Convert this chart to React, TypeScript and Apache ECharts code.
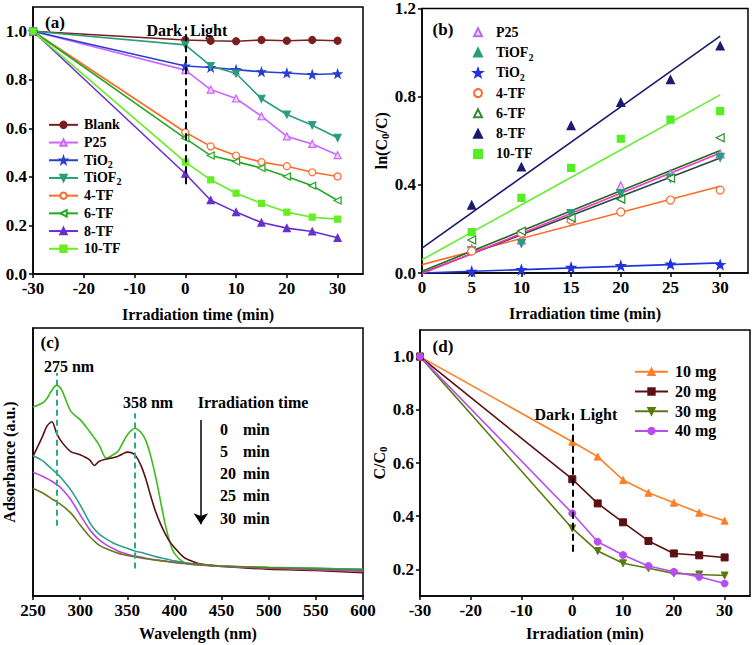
import React, { useEffect, useRef } from "react";
import * as echarts from "echarts";

const FONT = "Liberation Serif, Times New Roman, serif";

// ---------- Panel (a) ----------
const timesA = [-30, 0, 5, 10, 15, 20, 25, 30];
const blankA = [1.0, 0.964, 0.961, 0.959, 0.964, 0.961, 0.964, 0.961];
const p25A = [1.0, 0.84, 0.76, 0.723, 0.65, 0.567, 0.536, 0.49];
const tio2A = [1.0, 0.857, 0.851, 0.842, 0.833, 0.828, 0.822, 0.825];
const tiof2A = [1.0, 0.944, 0.857, 0.826, 0.722, 0.657, 0.613, 0.561];
const tf4A = [1.0, 0.584, 0.526, 0.488, 0.461, 0.444, 0.419, 0.402];
const tf6A = [1.0, 0.559, 0.488, 0.463, 0.437, 0.402, 0.364, 0.303];
const tf8A = [1.0, 0.413, 0.304, 0.255, 0.212, 0.189, 0.175, 0.149];
const tf10A = [1.0, 0.461, 0.388, 0.333, 0.291, 0.255, 0.234, 0.226];
const ticksAx = [-30, -20, -10, 0, 10, 20, 30];
const ticksAy = [0, 0.2, 0.4, 0.6, 0.8, 1.0];

// ---------- Panel (b) ----------
const timesB = [5, 10, 15, 20, 25, 30];
const lnP25 = [0.11, 0.15, 0.25, 0.395, 0.45, 0.54];
const lnTiOF2 = [0.1, 0.135, 0.27, 0.36, 0.43, 0.525];
const lnTiO2 = [0.007, 0.015, 0.025, 0.033, 0.04, 0.038];
const ln4TF = [0.1, 0.18, 0.24, 0.277, 0.331, 0.376];
const ln6TF = [0.15, 0.19, 0.25, 0.335, 0.43, 0.614];
const ln8TF = [0.308, 0.481, 0.669, 0.774, 0.877, 1.03];
const ln10TF = [0.185, 0.341, 0.477, 0.609, 0.696, 0.734];
// fitted lines: [P25, TiOF2, TiO2, 4-TF, 6-TF, 8-TF, 10-TF]
const fitX = [0, 30];
const fitAt0 = [-0.003, 0.0, 0.0, 0.038, 0.008, 0.113, 0.06];
const fitAt30 = [0.544, 0.522, 0.046, 0.394, 0.556, 1.075, 0.808];
const ticksBx = [0, 5, 10, 15, 20, 25, 30];
const ticksBy = [0, 0.4, 0.8, 1.2];

// ---------- Panel (c) ----------
const wl = [250, 260, 265, 270, 275, 280, 290, 300, 310, 315, 320, 328, 335, 340, 345, 350, 358, 365, 370, 375, 380, 385, 390, 395, 400, 410, 420, 430, 450, 500, 550, 600];
const abs0 = [0.705, 0.72, 0.738, 0.768, 0.786, 0.772, 0.69, 0.658, 0.614, 0.59, 0.564, 0.514, 0.527, 0.539, 0.57, 0.601, 0.626, 0.608, 0.577, 0.52, 0.446, 0.359, 0.271, 0.203, 0.159, 0.125, 0.118, 0.115, 0.112, 0.107, 0.103, 0.1];
const abs5 = [0.521, 0.595, 0.635, 0.65, 0.608, 0.577, 0.539, 0.527, 0.508, 0.487, 0.502, 0.511, 0.516, 0.521, 0.53, 0.537, 0.527, 0.483, 0.433, 0.371, 0.315, 0.271, 0.234, 0.203, 0.181, 0.144, 0.128, 0.118, 0.11, 0.1, 0.095, 0.087];
const abs20 = [0.523, 0.505, 0.49, 0.474, 0.458, 0.44, 0.396, 0.34, 0.275, 0.25, 0.232, 0.212, 0.198, 0.19, 0.184, 0.178, 0.168, 0.162, 0.157, 0.152, 0.147, 0.143, 0.139, 0.135, 0.131, 0.125, 0.12, 0.117, 0.112, 0.106, 0.103, 0.1];
const abs25 = [0.462, 0.447, 0.438, 0.428, 0.416, 0.402, 0.36, 0.303, 0.248, 0.227, 0.21, 0.19, 0.177, 0.168, 0.161, 0.156, 0.149, 0.145, 0.141, 0.138, 0.135, 0.132, 0.13, 0.127, 0.125, 0.121, 0.118, 0.115, 0.111, 0.104, 0.098, 0.092];
const abs30 = [0.402, 0.385, 0.374, 0.362, 0.352, 0.34, 0.31, 0.265, 0.222, 0.205, 0.19, 0.176, 0.166, 0.16, 0.155, 0.151, 0.146, 0.142, 0.139, 0.136, 0.134, 0.132, 0.13, 0.128, 0.126, 0.122, 0.119, 0.116, 0.112, 0.105, 0.1, 0.096];
const ticksCx = [250, 300, 350, 400, 450, 500, 550, 600];
const irrTimes = ["0", "5", "20", "25", "30"];

// ---------- Panel (d) ----------
const timesD = [-30, 0, 5, 10, 15, 20, 25, 30];
const mg10 = [1.0, 0.68, 0.624, 0.536, 0.488, 0.451, 0.413, 0.383];
const mg20 = [1.0, 0.539, 0.448, 0.377, 0.307, 0.26, 0.253, 0.245];
const mg30 = [1.0, 0.354, 0.269, 0.223, 0.204, 0.185, 0.181, 0.177];
const mg40 = [1.0, 0.411, 0.304, 0.254, 0.213, 0.191, 0.172, 0.147];
const ticksDx = [-30, -20, -10, 0, 10, 20, 30];
const ticksDy = [0.2, 0.4, 0.6, 0.8, 1.0];

const STAR = "path://M0,-10 L2.35,-3.24 L9.51,-3.09 L3.8,1.24 L5.88,8.09 L0,4 L-5.88,8.09 L-3.8,1.24 L-9.51,-3.09 L-2.35,-3.24 Z";

const zip = (xs: number[], ys: number[]) => xs.map((x, i) => [x, ys[i]]);
const subName = (n: string) => n.replace(/^b:/, "").replace("TiOF2", "TiOF{s|2}").replace("TiO2", "TiO{s|2}");

export default function App() {
  const ref = useRef<HTMLDivElement>(null);
  useEffect(() => {
    if (!ref.current) return;
    const chart = echarts.init(ref.current, null, { renderer: "svg" });
    const tickLabel = { color: "#000", fontFamily: FONT, fontWeight: "bold", fontSize: 17, margin: 6 };
    const nameStyle = {
      color: "#000", fontFamily: FONT, fontWeight: "bold", fontSize: 16,
      rich: { s: { fontFamily: FONT, fontWeight: "bold", fontSize: 11, verticalAlign: "bottom", padding: [8, 0, 0, 0] } },
    };
    const axisLine = { show: true, onZero: false, lineStyle: { color: "#000", width: 1.5 } };
    const tick = (vals: number[] | null) =>
      vals ? { show: true, inside: false, length: 4, lineStyle: { color: "#000", width: 1.5 }, customValues: vals } : { show: false };
    const lbl = (vals: number[] | null, dec: number) =>
      vals ? { ...tickLabel, customValues: vals, formatter: (v: number) => v.toFixed(dec) } : { show: false };
    const gridBase = { show: true, borderColor: "#000", borderWidth: 1.5, backgroundColor: "transparent" };
    const richSub = { s: { fontFamily: FONT, fontWeight: "bold", fontSize: 10, verticalAlign: "bottom", lineHeight: 12 } };

    const lineA = (name: string, data: number[], color: string, symbol: string, fill: string, rotate = 0, size = 7) => ({
      type: "line", name, xAxisIndex: 0, yAxisIndex: 0, data: zip(timesA, data),
      symbol, symbolSize: size, symbolRotate: rotate, showSymbol: true,
      lineStyle: { color, width: 1.6 }, itemStyle: { color: fill, borderColor: color, borderWidth: 1.2 },
    });
    const scatB = (name: string, data: number[], color: string, symbol: string, fill: string, rotate = 0, size = 8) => ({
      type: "scatter", name, xAxisIndex: 1, yAxisIndex: 1, data: zip(timesB, data),
      symbol, symbolSize: size, symbolRotate: rotate,
      itemStyle: { color: fill, borderColor: color, borderWidth: 1.2, opacity: 1 }, z: 5,
    });
    const fitColors = ["#FF33CC", "#1F4F3F", "#2233DD", "#FF6A2A", "#1E6B1E", "#1A1A70", "#66EE33"];
    const fitOrder = [5, 6, 3, 2, 4, 1, 0];
    const fits = fitOrder.map((i) => ({
      type: "line", name: "fit" + i, xAxisIndex: 1, yAxisIndex: 1,
      data: zip(fitX, [fitAt0[i], fitAt30[i]]), symbol: "none",
      lineStyle: { color: fitColors[i], width: 1.6 }, z: 3, silent: true,
    }));
    const specC = (name: string, data: number[], color: string, extra: any = {}) => ({
      type: "line", name, xAxisIndex: 2, yAxisIndex: 2, data: zip(wl, data), symbol: "none",
      smooth: 0.3, lineStyle: { color, width: 1.6 }, silent: true, ...extra,
    });
    const lineD = (name: string, data: number[], color: string, symbol: string, rotate = 0) => ({
      type: "line", name, xAxisIndex: 3, yAxisIndex: 3, data: zip(timesD, data),
      symbol, symbolSize: 7, symbolRotate: rotate, showSymbol: true,
      lineStyle: { color, width: 1.6 }, itemStyle: { color, borderColor: color, borderWidth: 1 },
    });
    const dash = (pairs: number[][][], color: string, type: any, width = 2) => ({
      silent: true, symbol: "none", label: { show: false },
      lineStyle: { color, type, width }, emphasis: { disabled: true },
      data: pairs.map((p) => [{ coord: p[0] }, { coord: p[1] }]),
    });

    const txt = (text: string, x: number, y: number, size = 16, align = "center") => ({
      type: "text", x, y, silent: true,
      style: { text, fill: "#000", fontFamily: FONT, fontWeight: "bold", fontSize: size, align, verticalAlign: "middle", textAlign: align, textVerticalAlign: "middle" },
    });

    const legendText = (size: number, lh: number, padLeft: number) => ({
      color: "#000", fontFamily: FONT, fontWeight: "bold", fontSize: size, lineHeight: lh, padding: [0, 0, 0, padLeft], rich: richSub,
    });

    const option: any = {
      animation: false,
      backgroundColor: "#fff",
      grid: [
        { ...gridBase, left: 33, top: 7, width: 330, height: 267 },
        { ...gridBase, left: 422, top: 7, width: 326, height: 266 },
        { ...gridBase, left: 33, top: 328, width: 330, height: 268 },
        { ...gridBase, left: 420, top: 330, width: 330, height: 266 },
      ],
      xAxis: [
        { type: "value", gridIndex: 0, min: -30, max: 35, axisLine, axisTick: tick(ticksAx), axisLabel: lbl(ticksAx, 0), splitLine: { show: false },
          name: "Irradiation time (min)", nameLocation: "middle", nameGap: 32, nameTextStyle: nameStyle },
        { type: "value", gridIndex: 1, min: 0, max: 32.8, axisLine, axisTick: tick(ticksBx), axisLabel: lbl(ticksBx, 0), splitLine: { show: false },
          name: "Irradiation time (min)", nameLocation: "middle", nameGap: 32, nameTextStyle: nameStyle },
        { type: "value", gridIndex: 2, min: 250, max: 600, axisLine, axisTick: tick(ticksCx), axisLabel: lbl(ticksCx, 0), splitLine: { show: false },
          name: "Wavelength (nm)", nameLocation: "middle", nameGap: 29, nameTextStyle: nameStyle },
        { type: "value", gridIndex: 3, min: -30, max: 35, axisLine, axisTick: tick(ticksDx), axisLabel: lbl(ticksDx, 0), splitLine: { show: false },
          name: "Irradiation (min)", nameLocation: "middle", nameGap: 29, nameTextStyle: nameStyle },
      ],
      yAxis: [
        { type: "value", gridIndex: 0, min: 0, max: 1.1, axisLine, axisTick: tick(ticksAy), axisLabel: lbl(ticksAy, 1), splitLine: { show: false } },
        { type: "value", gridIndex: 1, min: 0, max: 1.2, axisLine, axisTick: tick(ticksBy), axisLabel: lbl(ticksBy, 1), splitLine: { show: false },
          name: "ln(C{s|0}/C)", nameLocation: "middle", nameGap: 28, nameTextStyle: nameStyle },
        { type: "value", gridIndex: 2, min: 0, max: 1, axisLine, axisTick: tick(null), axisLabel: lbl(null, 0), splitLine: { show: false },
          name: "Adsorbance (a.u.)", nameLocation: "middle", nameGap: 16, nameTextStyle: nameStyle },
        { type: "value", gridIndex: 3, min: 0.1, max: 1.1, axisLine, axisTick: tick(ticksDy), axisLabel: lbl(ticksDy, 1), splitLine: { show: false },
          name: "C/C{s|0}", nameLocation: "middle", nameGap: 28, nameTextStyle: nameStyle },
      ],
      legend: [
        { orient: "vertical", left: 48, top: 116, padding: 0, itemWidth: 29, itemHeight: 8, itemGap: 0, selectedMode: false,
          data: ["Blank", "P25", "TiO2", "TiOF2", "4-TF", "6-TF", "8-TF", "10-TF"],
          formatter: subName, textStyle: legendText(14, 17.7, 1) },
        { orient: "vertical", left: 473, top: 22, padding: 0, itemWidth: 8, itemHeight: 8, itemGap: 0, selectedMode: false,
          data: ["b:P25", "b:TiOF2", "b:TiO2", "b:4-TF", "b:6-TF", "b:8-TF", "b:10-TF"],
          formatter: subName, textStyle: legendText(14, 20.3, 9) },
        { orient: "vertical", left: 634, top: 362, padding: 0, itemWidth: 33, itemHeight: 8, itemGap: 0, selectedMode: false,
          data: ["10 mg", "20 mg", "30 mg", "40 mg"],
          textStyle: legendText(16, 19.7, 2) },
      ],
      series: [
        { ...lineA("Blank", blankA, "#7A1F1F", "circle", "#7A1F1F"),
          markLine: dash([[[0, 0.37], [0, 1.02]]], "#000", [7, 4]) },
        lineA("P25", p25A, "#CC66FF", "triangle", "#EBD0FF"),
        lineA("TiO2", tio2A, "#2A3FD0", STAR, "#2A3FD0", 0, 8),
        lineA("TiOF2", tiof2A, "#2A9D7C", "triangle", "#2A9D7C", 180),
        lineA("4-TF", tf4A, "#FF6A2A", "circle", "#FFFFFF"),
        lineA("6-TF", tf6A, "#22A822", "triangle", "#FFFFFF", 90),
        lineA("8-TF", tf8A, "#6A2FD0", "triangle", "#6A2FD0"),
        lineA("10-TF", tf10A, "#66EE22", "rect", "#66EE22", 0, 6),
        ...fits,
        scatB("b:P25", lnP25, "#BB66EE", "triangle", "#EBD0FF"),
        scatB("b:TiOF2", lnTiOF2, "#2A9D7C", "triangle", "#2A9D7C", 180),
        scatB("b:TiO2", lnTiO2, "#2233DD", STAR, "#2233DD", 0, 9),
        scatB("b:4-TF", ln4TF, "#FF6A2A", "circle", "#FFFFFF"),
        scatB("b:6-TF", ln6TF, "#2E8B2E", "triangle", "#FFFFFF", 90),
        scatB("b:8-TF", ln8TF, "#1A1A70", "triangle", "#1A1A70"),
        scatB("b:10-TF", ln10TF, "#55EE22", "rect", "#55EE22", 0, 7),
        specC("0 min", abs0, "#3CBB1A", {
          markLine: dash([[[275, 0.262], [275, 0.832]], [[358, 0.103], [358, 0.682]]], "#2EAA80", [6, 4]) }),
        specC("5 min", abs5, "#5A0F12"),
        specC("20 min", abs20, "#2AA08A"),
        specC("25 min", abs25, "#BB44EE"),
        specC("30 min", abs30, "#6A7A18", {
          markLine: { silent: true, symbol: ["none", "arrow"], symbolSize: 11, label: { show: false },
            lineStyle: { color: "#000", type: "solid", width: 1.5 }, emphasis: { disabled: true },
            data: [[{ coord: [428, 0.657] }, { coord: [428, 0.268] }]] } }),
        { ...lineD("10 mg", mg10, "#FF7F27", "triangle"),
          markLine: dash([[[0, 0.266], [0, 0.787]]], "#000", [7, 4]) },
        lineD("20 mg", mg20, "#5C1010", "rect"),
        lineD("30 mg", mg30, "#5A7A10", "triangle", 180),
        lineD("40 mg", mg40, "#B84EF0", "circle"),
      ],
      graphic: [
        txt("(a)", 55, 22, 17),
        txt("Dark", 182, 30, 16, "right"),
        txt("Light", 190, 30, 16, "left"),
        txt("(b)", 443, 29, 17),
        txt("(c)", 50, 342, 17),
        txt("275 nm", 69, 366),
        txt("358 nm", 148, 402),
        txt("Irradiation time", 253, 402),
        ...irrTimes.map((t, i) => txt(t, 220, 429 + i * 22.3, 16, "left")),
        ...irrTimes.map((t, i) => txt("min", 243, 429 + i * 22.3, 16, "left")),
        txt("(d)", 443, 346, 17),
        txt("Dark", 570, 414, 16, "right"),
        txt("Light", 580, 414, 16, "left"),
      ],
    };
    chart.setOption(option);
    return () => chart.dispose();
  }, []);
  return <div ref={ref} style={{ position: "fixed", left: 0, top: 0, width: 754, height: 645 }} />;
}
